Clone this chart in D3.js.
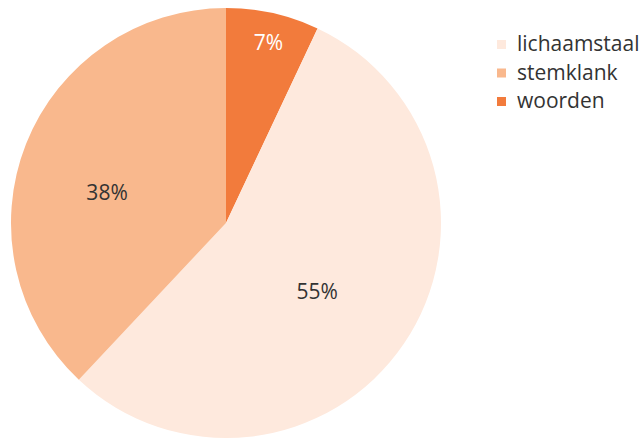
<!DOCTYPE html>
<html>
<head>
<meta charset="utf-8">
<script src="https://cdn.jsdelivr.net/npm/d3@7"></script>
<style>
  body { margin: 0; background: #fff; }
  text { font-family: "Open Sans", Lato, sans-serif; }
</style>
</head>
<body>
<svg id="chart" width="643" height="439"></svg>
<script>
// slices in drawing order (clockwise from 12 o'clock)
var sliceNames = ["woorden", "lichaamstaal", "stemklank"];
var sliceValues = [7, 55, 38];
var legendNames = ["lichaamstaal", "stemklank", "woorden"];

var colors = {
    woorden: "#f27b3c",
    lichaamstaal: "#fee9dd",
    stemklank: "#f9b88d"
};
var labelColors = { woorden: "#ffffff", lichaamstaal: "#333333", stemklank: "#333333" };
// label distance from centre (fraction of radius) and a small nudge
var labelRadius = { woorden: 0.86, lichaamstaal: 0.53, stemklank: 0.57 };
var labelNudge = { woorden: [2, 0], lichaamstaal: [-3, 5], stemklank: [-5, 15] };

var svg = d3.select("#chart"),
    cx = 226,
    cy = 223,
    radius = 215;

var pie = d3.pie()
    .sort(null)
    .value(function(d) { return d.value; });

var data = sliceNames.map(function(n, i) { return { name: n, value: sliceValues[i] }; });

var arc = d3.arc()
    .innerRadius(0)
    .outerRadius(radius);

var g = svg.append("g")
    .attr("transform", "translate(" + cx + "," + cy + ")");

var slices = g.selectAll("g.slice")
    .data(pie(data))
    .enter().append("g")
    .attr("class", "slice");

slices.append("path")
    .attr("d", arc)
    .style("fill", function(d) { return colors[d.data.name]; });

slices.append("text")
    .attr("transform", function(d) {
        var r = radius * labelRadius[d.data.name];
        var a = (d.startAngle + d.endAngle) / 2;
        var n = labelNudge[d.data.name];
        return "translate(" + (Math.sin(a) * r + n[0]) + "," + (-Math.cos(a) * r + n[1]) + ")";
    })
    .attr("text-anchor", "middle")
    .attr("dy", "0.35em")
    .style("font-size", "21px")
    .style("fill", function(d) { return labelColors[d.data.name]; })
    .text(function(d) { return d.data.value + "%"; });

var legend = svg.append("g")
    .attr("transform", "translate(497,44)");

var item = legend.selectAll("g")
    .data(legendNames)
    .enter().append("g")
    .attr("transform", function(d, i) { return "translate(0," + (i * 28.5) + ")"; });

item.append("rect")
    .attr("x", 0)
    .attr("y", -4)
    .attr("width", 9)
    .attr("height", 9)
    .style("fill", function(d) { return colors[d]; });

item.append("text")
    .attr("x", 20)
    .attr("dy", "0.35em")
    .style("font-size", "21px")
    .style("fill", "#333333")
    .text(function(d) { return d; });
</script>
</body>
</html>
